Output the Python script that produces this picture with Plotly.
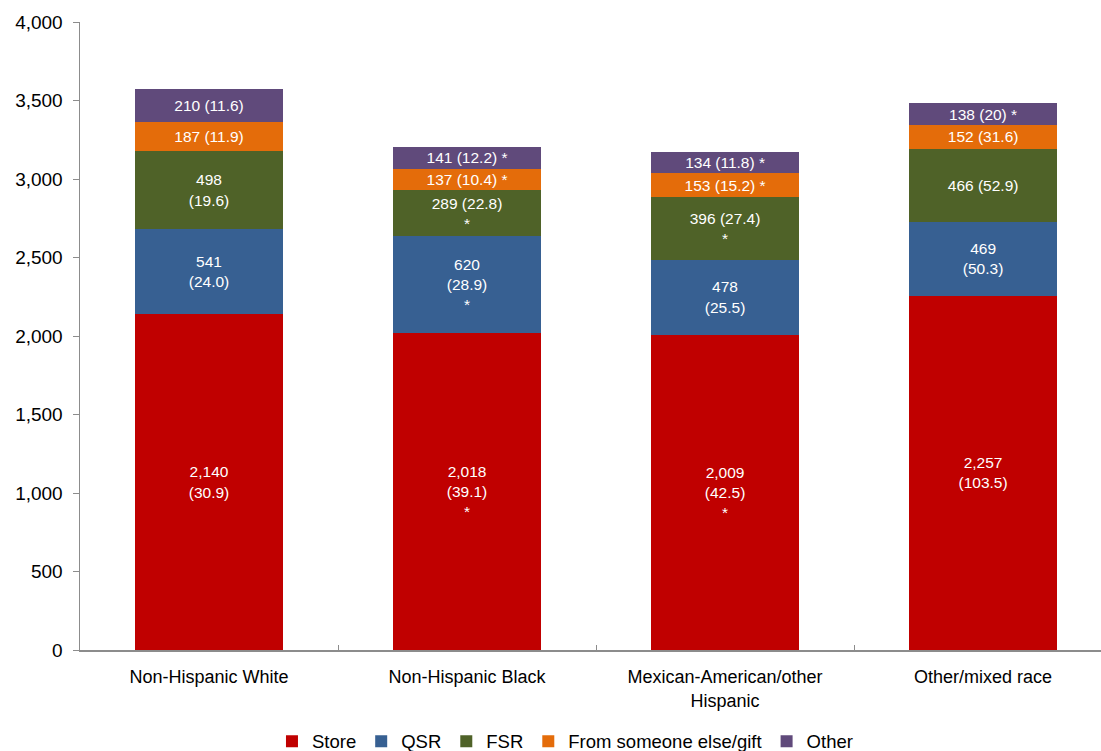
import plotly.graph_objects as go

categories = ["Non-Hispanic White", "Non-Hispanic Black",
              "Mexican-American/other<br>Hispanic", "Other/mixed race"]

series_names = ["Store", "QSR", "FSR", "From someone else/gift", "Other"]
store = [2140, 2018, 2009, 2257]
qsr = [541, 620, 478, 469]
fsr = [498, 289, 396, 466]
gift = [187, 137, 153, 152]
other = [210, 141, 134, 138]

store_lbl = ["2,140<br>(30.9)", "2,018<br>(39.1)<br>*", "2,009<br>(42.5)<br>*", "2,257<br>(103.5)"]
qsr_lbl = ["541<br>(24.0)", "620<br>(28.9)<br>*", "478<br>(25.5)", "469<br>(50.3)"]
fsr_lbl = ["498<br>(19.6)", "289 (22.8)<br>*", "396 (27.4)<br>*", "466 (52.9)"]
gift_lbl = ["187 (11.9)", "137 (10.4) *", "153 (15.2) *", "152 (31.6)"]
other_lbl = ["210 (11.6)", "141 (12.2) *", "134 (11.8) *", "138 (20) *"]

colors = ["#C00000", "#376092", "#4F6228", "#E46C0A", "#604A7B"]
values = [store, qsr, fsr, gift, other]
labels = [store_lbl, qsr_lbl, fsr_lbl, gift_lbl, other_lbl]

FONT = "Liberation Sans, Arial, sans-serif"

fig = go.Figure()
for name, vals, lbl, col in zip(series_names, values, labels, colors):
    fig.add_trace(go.Bar(
        name=name, x=categories, y=vals, text=lbl,
        texttemplate="%{text}", textposition="inside",
        insidetextanchor="middle", constraintext="none",
        textfont=dict(family=FONT, size=15.5, color="white"),
        marker=dict(color=col, line=dict(width=0)),
        hoverinfo="skip",
    ))

fig.update_layout(
    barmode="stack",
    bargap=0.426,
    width=1101, height=751,
    margin=dict(l=80, r=0, t=22, b=101, autoexpand=False),
    plot_bgcolor="white", paper_bgcolor="white",
    font=dict(family=FONT, size=18, color="black"),
    showlegend=True,
    legend=dict(orientation="h", x=0.475, xanchor="center", y=-0.146, yanchor="middle",
                font=dict(size=18.5), traceorder="normal", itemwidth=30,
                tracegroupgap=0),
)
fig.update_xaxes(
    range=[-0.5, 3.457], showline=True, linecolor="#8C8C8C", linewidth=1.5,
    ticks="inside", tickson="boundaries", ticklen=5, tickcolor="#8C8C8C",
    tickfont=dict(size=18), showgrid=False, automargin=False,
    ticklabelstandoff=10,
)
fig.update_yaxes(
    range=[0, 4000], dtick=500, tickformat=",", showline=True, linecolor="#8C8C8C",
    linewidth=1.5, ticks="outside", ticklen=6, tickcolor="#8C8C8C",
    tickfont=dict(size=19), showgrid=False, zeroline=False, automargin=False,
    ticklabelstandoff=6,
)

fig.write_html("out.html", config={"displayModeBar": False, "staticPlot": True},
               post_script="document.body.style.margin='0';document.body.style.padding='0';")
